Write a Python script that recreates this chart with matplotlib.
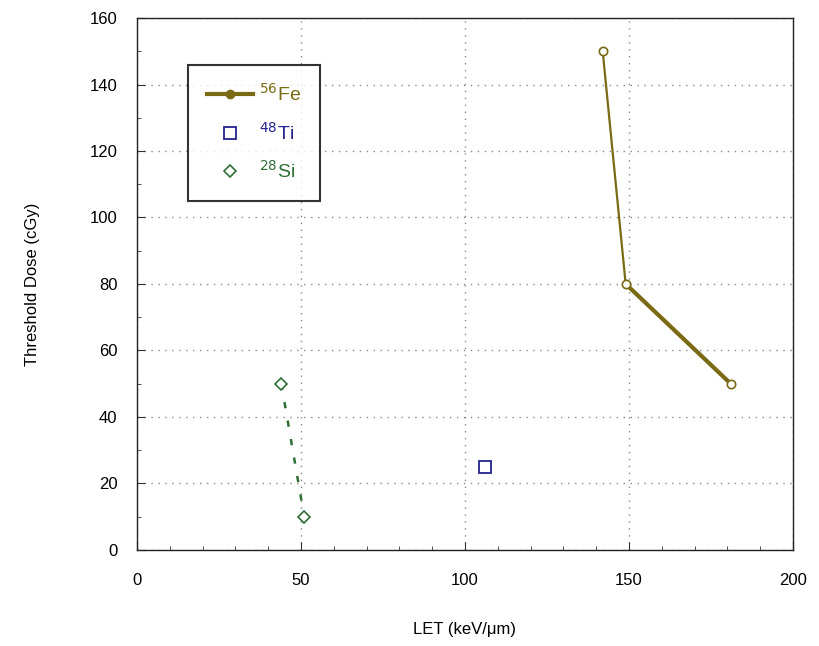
import matplotlib
matplotlib.use("Agg")
import matplotlib.pyplot as plt
from matplotlib.ticker import MultipleLocator
from matplotlib.lines import Line2D

plt.rcParams["font.family"] = ["Liberation Sans", "DejaVu Sans"]

# datos
fe_let = [142, 149, 181]
fe_dose = [150, 80, 50]
ti_let = [106]
ti_dose = [25]
si_let = [44, 51]
si_dose = [50, 10]

FE_COLOR = "#7a6a14"
TI_COLOR = "#23238f"
SI_COLOR = "#2f6e34"

fig = plt.figure(figsize=(8.2, 6.46), dpi=100)
ax = fig.add_axes([0.167, 0.149, 0.800, 0.823])

# Fe: tramo superior fino, tramo inferior grueso
ax.plot(fe_let[:2], fe_dose[:2], color=FE_COLOR, lw=1.6, zorder=3)
ax.plot(fe_let[1:], fe_dose[1:], color=FE_COLOR, lw=3.0, zorder=3)
ax.plot(fe_let, fe_dose, ls="none", marker="o", ms=6, mfc="white",
        mec=FE_COLOR, mew=1.2, zorder=4)

ax.plot(ti_let, ti_dose, ls="none", marker="s", ms=8, mfc="white",
        mec=TI_COLOR, mew=1.3, zorder=4)

ax.plot(si_let, si_dose, color=SI_COLOR, lw=1.8, ls=(0, (2.5, 5)), zorder=3)
ax.plot(si_let, si_dose, ls="none", marker="D", ms=6, mfc="white",
        mec=SI_COLOR, mew=1.2, zorder=4)

ax.set_xlim(0, 200)
ax.set_ylim(0, 160)
ax.xaxis.set_major_locator(MultipleLocator(50))
ax.xaxis.set_minor_locator(MultipleLocator(10))
ax.yaxis.set_major_locator(MultipleLocator(20))
ax.yaxis.set_minor_locator(MultipleLocator(10))
ax.tick_params(which="both", direction="in", labelsize=12, color="#333333")
ax.tick_params(axis="x", pad=17)
ax.tick_params(axis="y", pad=14)
ax.tick_params(which="major", length=6)
ax.tick_params(which="minor", length=3)
ax.grid(True, which="major", color="#888888", ls=(0, (1, 4)), lw=1)
for s in ax.spines.values():
    s.set_linewidth(1.0)
    s.set_color("#222222")

ax.set_xlabel("LET (keV/\u03bcm)", fontsize=12, labelpad=24)
ax.set_ylabel("Threshold Dose (cGy)", fontsize=12, labelpad=36)

handles = [
    Line2D([], [], color=FE_COLOR, lw=3, marker="o", ms=6, mfc=FE_COLOR),
    Line2D([], [], ls="none", marker="s", ms=8, mfc="white", mec=TI_COLOR, mew=1.3),
    Line2D([], [], ls="none", marker="D", ms=6, mfc="white", mec=SI_COLOR, mew=1.2),
]
labels = ["$^{56}$Fe", "$^{48}$Ti", "$^{28}$Si"]
leg = ax.legend(handles, labels, loc="upper left", bbox_to_anchor=(0.078, 0.912),
                fontsize=14, frameon=True, fancybox=False, edgecolor="black",
                handlelength=2.4, handletextpad=0.3, labelspacing=0.85,
                borderpad=0.95, borderaxespad=0)
leg.get_frame().set_linewidth(1.5)
for t, c in zip(leg.get_texts(), [FE_COLOR, TI_COLOR, SI_COLOR]):
    t.set_color(c)

fig.savefig("out.png", dpi=100)
